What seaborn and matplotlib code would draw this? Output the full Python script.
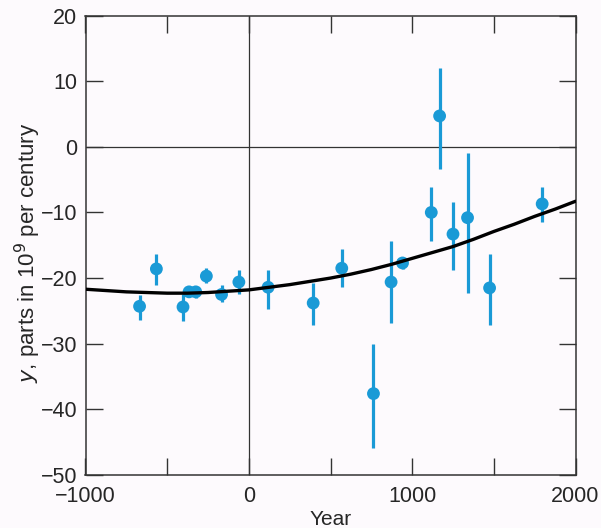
import matplotlib
matplotlib.use('Agg')
import matplotlib.pyplot as plt
from matplotlib.ticker import MultipleLocator
import seaborn as sns
import pandas as pd

# observations (year, value, top and bottom of error bar)
years = [-669, -566, -403, -366, -325, -260, -167, -61, 118, 394,
         569, 763, 871, 941, 1117, 1168, 1250, 1339, 1474, 1796]
values = [-24.3, -18.6, -24.4, -22.1, -22.1, -19.7, -22.5, -20.6, -21.4, -23.8,
          -18.5, -37.6, -20.6, -17.7, -10.0, 4.7, -13.3, -10.8, -21.5, -8.7]
err_top = [-22.6, -16.3, -22.5, -21.5, -21.2, -18.4, -21.0, -18.7, -18.7, -20.7,
           -15.6, -30.1, -14.3, -16.9, -6.1, 12.0, -8.4, -1.0, -16.4, -6.1]
err_bottom = [-26.4, -21.0, -26.6, -22.7, -23.0, -20.7, -23.7, -22.4, -24.7, -27.2,
              -21.3, -45.9, -26.9, -18.6, -14.3, -3.4, -18.7, -22.2, -27.1, -11.5]

# fitted curve
curve_years = [-1000, -875, -750, -625, -500, -375, -250, -125, 0, 125, 250, 375, 500,
               625, 750, 875, 1000, 1125, 1250, 1375, 1500, 1625, 1750, 1875, 2000]
curve_values = [-21.7, -21.9, -22.1, -22.2, -22.3, -22.3, -22.2, -22.0, -21.8, -21.4,
                -21.0, -20.5, -20.0, -19.4, -18.7, -17.9, -17.0, -16.1, -15.2, -14.1,
                -12.9, -11.8, -10.6, -9.5, -8.3]

obs = pd.DataFrame({'year': years, 'y': values, 'top': err_top, 'bottom': err_bottom})
fit = pd.DataFrame({'year': curve_years, 'y': curve_values})

sns.set_style('ticks')
plt.rcParams['font.family'] = ['Liberation Sans', 'DejaVu Sans']
plt.rcParams['axes.unicode_minus'] = True

blue = '#1a9ad6'
bg = '#fdfafd'

fig = plt.figure(figsize=(6.01, 5.28), dpi=100, facecolor=bg)
ax = fig.add_axes([85.5 / 601, 53 / 528, 490 / 601, 459.5 / 528])
ax.set_facecolor(bg)

ax.axhline(0, color='#333333', lw=0.9, zorder=1)
ax.axvline(0, color='#333333', lw=0.9, zorder=1)

ax.vlines(obs['year'], obs['bottom'], obs['top'], color=blue, lw=2.3, zorder=2)
sns.scatterplot(data=obs, x='year', y='y', ax=ax, color=blue, s=85,
                edgecolor='none', zorder=3)
sns.lineplot(data=fit, x='year', y='y', ax=ax, color='black', lw=2.4, zorder=4)

ax.set_xlim(-1000, 2000)
ax.set_ylim(-50, 20)
ax.set_xticks([-1000, 0, 1000, 2000])
ax.xaxis.set_minor_locator(MultipleLocator(500))
ax.yaxis.set_major_locator(MultipleLocator(10))
ax.tick_params(which='both', direction='in', top=True, right=True,
               length=12, width=1, color='#333333', labelsize=15.5)
ax.tick_params(axis='x', pad=8)
ax.tick_params(axis='y', pad=6)

for s in ax.spines.values():
    s.set_linewidth(1.1)
    s.set_color('#333333')

ax.set_xlabel('Year', fontsize=15, labelpad=2)
ax.set_ylabel('$\\mathit{y}$, parts in 10$^9$ per century', fontsize=16)
ax.yaxis.set_label_coords(-0.086, 0.483)

plt.savefig('out.png', dpi=100, facecolor=bg)
